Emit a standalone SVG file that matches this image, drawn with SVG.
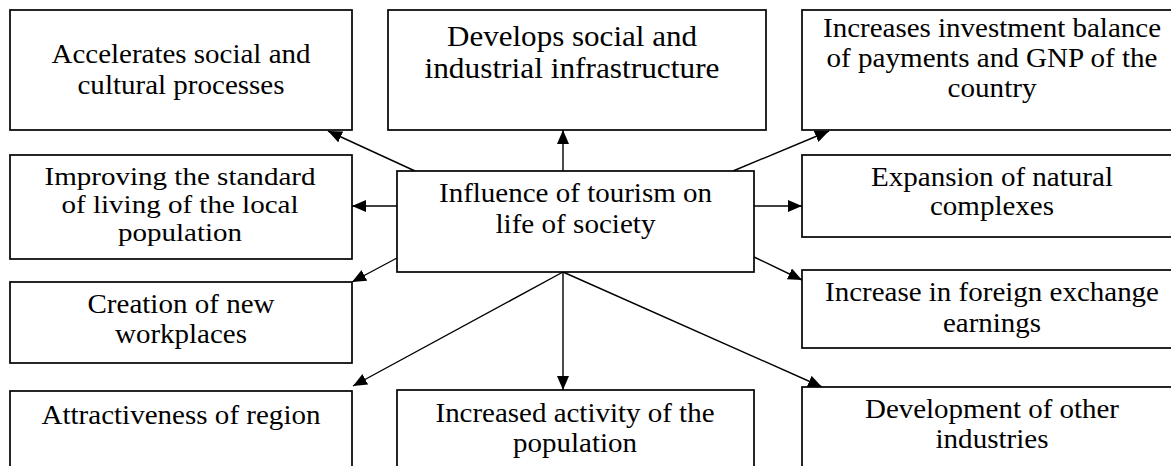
<svg xmlns="http://www.w3.org/2000/svg" width="1171" height="466" viewBox="0 0 1171 466">
  <style>
    .box { fill: #ffffff; stroke: #000000; stroke-width: 1.7; }
    .lbl { font-family: "Liberation Serif", "Times New Roman", serif; font-size: 27px; fill: #000000; text-anchor: middle; }
    .big { font-size: 28.5px; }
    .tight { font-size: 25px; }
    .link { fill: none; stroke: #000000; stroke-width: 1.4; marker-end: url(#head); }
  </style>
  <defs>
    <marker id="head" markerUnits="userSpaceOnUse" markerWidth="14" markerHeight="12" refX="14" refY="6" orient="auto">
      <path d="M0,0 L14,6 L0,12 Z" fill="#000000"/>
    </marker>
  </defs>
  <rect width="1171" height="466" fill="#ffffff"/>

  <!-- connectors: everything radiates from the central box -->
  <g id="connectors">
    <line class="link" x1="415" y1="171" x2="328" y2="131"/>
    <line class="link" x1="563" y1="171" x2="563" y2="130"/>
    <line class="link" x1="733" y1="171" x2="829" y2="131"/>
    <line class="link" x1="397" y1="206" x2="352" y2="206"/>
    <line class="link" x1="754" y1="206" x2="802" y2="206"/>
    <line class="link" x1="397" y1="258" x2="352" y2="282"/>
    <line class="link" x1="754" y1="257" x2="802" y2="280"/>
    <line class="link" x1="563" y1="272" x2="353" y2="386"/>
    <line class="link" x1="563" y1="272" x2="563" y2="390"/>
    <line class="link" x1="563" y1="272" x2="822" y2="387"/>
  </g>

  <g id="node-center">
    <rect class="box" x="397" y="171" width="357" height="101"/>
    <text class="lbl" x="575.5" y="202" textLength="273" lengthAdjust="spacingAndGlyphs">Influence of tourism on</text>
    <text class="lbl" x="575.5" y="233" textLength="160" lengthAdjust="spacingAndGlyphs">life of society</text>
  </g>

  <g id="node-accelerates">
    <rect class="box" x="10" y="10" width="342" height="120"/>
    <text class="lbl" x="181" y="63" textLength="259" lengthAdjust="spacingAndGlyphs">Accelerates social and</text>
    <text class="lbl" x="181" y="94" textLength="207" lengthAdjust="spacingAndGlyphs">cultural processes</text>
  </g>

  <g id="node-infrastructure">
    <rect class="box" x="388" y="10" width="378" height="120"/>
    <text class="lbl big" x="572" y="46" textLength="250" lengthAdjust="spacingAndGlyphs">Develops social and</text>
    <text class="lbl big" x="572" y="78" textLength="295" lengthAdjust="spacingAndGlyphs">industrial infrastructure</text>
  </g>

  <g id="node-investment">
    <rect class="box" x="802" y="10" width="380" height="120"/>
    <text class="lbl" x="992" y="37" textLength="338" lengthAdjust="spacingAndGlyphs">Increases investment balance</text>
    <text class="lbl" x="992" y="67" textLength="331" lengthAdjust="spacingAndGlyphs">of payments and GNP of the</text>
    <text class="lbl" x="992" y="97" textLength="89" lengthAdjust="spacingAndGlyphs">country</text>
  </g>

  <g id="node-living-standard">
    <rect class="box" x="10" y="155" width="342" height="104"/>
    <text class="lbl tight" x="180" y="185" textLength="271" lengthAdjust="spacingAndGlyphs">Improving the standard</text>
    <text class="lbl tight" x="180" y="213" textLength="237" lengthAdjust="spacingAndGlyphs">of living of the local</text>
    <text class="lbl tight" x="180" y="241" textLength="124" lengthAdjust="spacingAndGlyphs">population</text>
  </g>

  <g id="node-natural">
    <rect class="box" x="802" y="155" width="380" height="82"/>
    <text class="lbl" x="992" y="186" textLength="242" lengthAdjust="spacingAndGlyphs">Expansion of natural</text>
    <text class="lbl" x="992" y="215" textLength="124" lengthAdjust="spacingAndGlyphs">complexes</text>
  </g>

  <g id="node-workplaces">
    <rect class="box" x="10" y="282" width="342" height="81"/>
    <text class="lbl" x="181" y="313" textLength="187" lengthAdjust="spacingAndGlyphs">Creation of new</text>
    <text class="lbl" x="181" y="343" textLength="132" lengthAdjust="spacingAndGlyphs">workplaces</text>
  </g>

  <g id="node-foreign-exchange">
    <rect class="box" x="802" y="270" width="380" height="78"/>
    <text class="lbl" x="992" y="301" textLength="334" lengthAdjust="spacingAndGlyphs">Increase in foreign exchange</text>
    <text class="lbl" x="992" y="332" textLength="98" lengthAdjust="spacingAndGlyphs">earnings</text>
  </g>

  <g id="node-attractiveness">
    <rect class="box" x="10" y="391" width="342" height="90"/>
    <text class="lbl" x="181" y="424" textLength="279" lengthAdjust="spacingAndGlyphs">Attractiveness of region</text>
  </g>

  <g id="node-activity">
    <rect class="box" x="397" y="390" width="357" height="90"/>
    <text class="lbl" x="575" y="422" textLength="279" lengthAdjust="spacingAndGlyphs">Increased activity of the</text>
    <text class="lbl" x="575" y="452" textLength="124" lengthAdjust="spacingAndGlyphs">population</text>
  </g>

  <g id="node-industries">
    <rect class="box" x="802" y="387" width="380" height="93"/>
    <text class="lbl" x="992" y="418" textLength="254" lengthAdjust="spacingAndGlyphs">Development of other</text>
    <text class="lbl" x="992" y="448" textLength="113" lengthAdjust="spacingAndGlyphs">industries</text>
  </g>
</svg>
